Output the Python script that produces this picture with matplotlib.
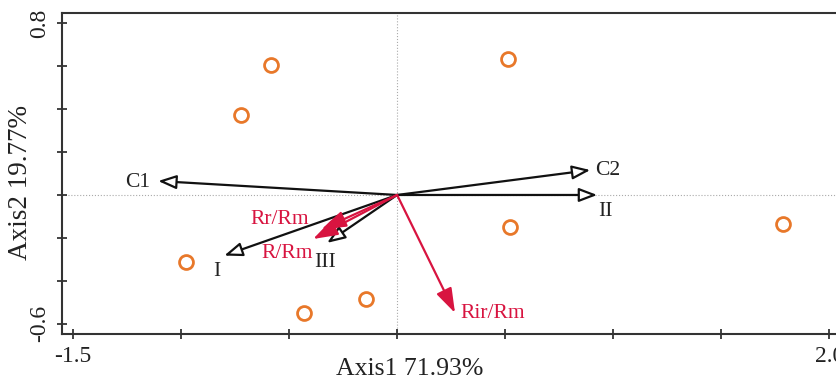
import matplotlib.pyplot as plt

plt.rcParams['font.family'] = ['Liberation Serif', 'DejaVu Serif']

# sample scores
site_x = [-0.583, -0.722, 0.514, -0.977, 0.523, 1.787, -0.144, -0.431]
site_y = [0.605, 0.372, 0.633, -0.312, -0.149, -0.135, -0.484, -0.549]

# black vectors
vec_names = ['C1', 'C2', 'II', 'I', 'III']
vec_x = [-1.106, 0.894, 0.926, -0.800, -0.324]
vec_y = [0.065, 0.116, 0.0, -0.282, -0.223]

# red vectors
red_names = ['Rr/Rm', 'R/Rm', 'Rir/Rm']
red_x = [-0.350, -0.389, 0.268]
red_y = [-0.160, -0.205, -0.549]

fig = plt.figure(figsize=(8.37, 3.81), dpi=100)
ax = fig.add_axes([0.0741, 0.1234, 0.9295, 0.8425])

ax.set_xlim(-1.551, 2.05)
ax.set_ylim(-0.647, 0.847)

ax.axvline(0, color='#aaaaaa', lw=0.8, ls=':', zorder=0)
ax.axhline(0, color='#aaaaaa', lw=0.8, ls=':', zorder=0)

ax.plot(site_x, site_y, 'o', ms=10, mfc='none', mec='#E8782A', mew=2.0, zorder=3)

for nm, x, y in zip(vec_names, vec_x, vec_y):
    ax.annotate('', xy=(x, y), xytext=(0, 0),
                arrowprops=dict(arrowstyle='-|>,head_length=1.1,head_width=0.42',
                                fc='white', ec='#111111', lw=1.6,
                                shrinkA=0, shrinkB=0), zorder=4)

for nm, x, y in zip(red_names, red_x, red_y):
    ax.annotate('', xy=(x, y), xytext=(0, 0),
                arrowprops=dict(arrowstyle='-|>,head_length=1.5,head_width=0.5',
                                fc='#D81440', ec='#D81440', lw=1.6,
                                shrinkA=0, shrinkB=0), zorder=5)

# label offsets from arrow tips
lab_off = {'C1': (-0.093, -0.009, 'center'),
           'C2': (0.023, -0.004, 'left'),
           'II': (0.004, -0.079, 'left'),
           'I': (-0.033, -0.076, 'center'),
           'III': (-0.009, -0.093, 'center')}
for nm, x, y in zip(vec_names, vec_x, vec_y):
    dx, dy, ha = lab_off[nm]
    ax.text(x + dx, y + dy, nm, ha=ha, va='center', fontsize=15.5, color='#222222')

red_off = {'Rr/Rm': (-0.192, 0.048, 'center'),
           'R/Rm': (-0.120, -0.069, 'center'),
           'Rir/Rm': (0.024, -0.004, 'left')}
for nm, x, y in zip(red_names, red_x, red_y):
    dx, dy, ha = red_off[nm]
    ax.text(x + dx, y + dy, nm, ha=ha, va='center', fontsize=15.5, color='#D81440')

ax.set_xticks([-1.5, -1.0, -0.5, 0, 0.5, 1.0, 1.5, 2.0])
ax.set_xticklabels(['-1.5', '', '', '', '', '', '', '2.0'])
ax.set_yticks([0.8, 0.6, 0.4, 0.2, 0, -0.2, -0.4, -0.6])
ax.set_yticklabels(['0.8', '', '', '', '', '', '', '-0.6'], rotation=90, va='center')
ax.tick_params(direction='inout', length=7, width=1.2, labelsize=17, colors='#222222', pad=5)
for s in ax.spines.values():
    s.set_linewidth(1.5)
    s.set_color('#333333')

ax.set_xlabel('Axis1 71.93%', fontsize=18.5, color='#222222')
ax.xaxis.set_label_coords(0.447, -0.075)
ax.set_ylabel('Axis2 19.77%', fontsize=19.5, color='#222222')
ax.yaxis.set_label_coords(-0.037, 0.473)

fig.savefig('out.png', dpi=100)
